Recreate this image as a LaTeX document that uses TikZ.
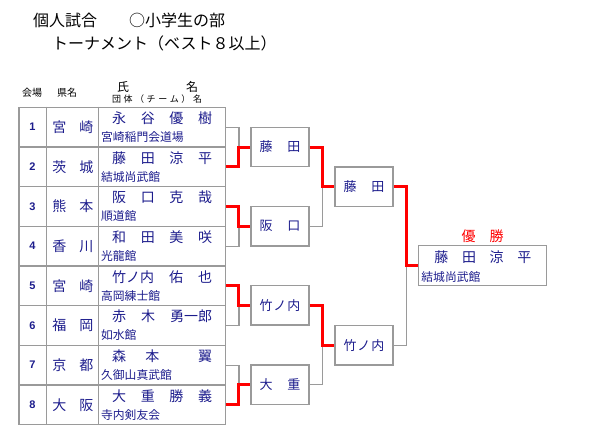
\documentclass[tikz,border=0pt]{standalone}
\usepackage{fontspec}
\setmainfont{Noto Sans CJK JP}
\newfontfamily\numfont{Liberation Sans}
\usetikzlibrary{positioning,calc}
\definecolor{ink}{HTML}{1C1C8C}
\definecolor{rule}{HTML}{9A9A9A}
\definecolor{win}{HTML}{FF0000}
\tikzset{
  lose/.style={draw=rule, line width=1.2pt},
  wins/.style={draw=win, line width=3pt},
  entry/.style={lose, minimum width=206.3pt, minimum height=39.67pt, inner sep=0pt},
  matchbox/.style={lose, minimum width=58pt, minimum height=39.4pt, inner sep=0pt, text=ink, font=\fontsize{13}{13}\selectfont},
  finalbox/.style={lose, minimum width=128.4pt, minimum height=40pt, inner sep=0pt},
  numtext/.style={inner sep=0pt, text=ink, font=\numfont\bfseries\fontsize{11}{11}\selectfont},
  preftext/.style={inner sep=0pt, text=ink, font=\fontsize{14}{14}\selectfont},
  nametext/.style={inner sep=0pt, anchor=west, text=ink, font=\fontsize{14}{14}\selectfont},
  teamtext/.style={inner sep=0pt, anchor=west, text=ink, font=\fontsize{11.8}{12}\selectfont},
  headtext/.style={inner sep=0pt, font=\fontsize{10}{10}\selectfont},
  titletext/.style={inner sep=0pt, anchor=west, font=\fontsize{16}{16}\selectfont}
}
\begin{document}
\begin{tikzpicture}[x=1pt, y=-1pt]
\useasboundingbox (0,0) rectangle (600,440);

% title
\node[titletext] (title) at (33,20) {個人試合　　○小学生の部};
\node[titletext] (subtitle) at (52,43) {トーナメント（ベスト８以上）};

% column heads
\node[headtext] (hvenue) at (32,93) {会場};
\node[headtext] (hpref) at (67,93) {県名};
\node[headtext, font=\fontsize{12}{12}\selectfont] (hname) at (123,87) {氏};
\node[headtext, font=\fontsize{12}{12}\selectfont] (hname2) at (192,87) {名};
\node[headtext, font=\fontsize{9}{9}\selectfont] (hteam) at (157,99)
  {\makebox[90pt][s]{団\hfill 体\hfill （\hfill チ\hfill ー\hfill ム\hfill ）\hfill 名}};

% players
\foreach \i/\pref/\name/\team in {
  1/{宮\hfill 崎}/{永\hfill 谷\hfill 優\hfill 樹}/宮崎稲門会道場,
  2/{茨\hfill 城}/{藤\hfill 田\hfill 涼\hfill 平}/結城尚武館,
  3/{熊\hfill 本}/{阪\hfill 口\hfill 克\hfill 哉}/順道館,
  4/{香\hfill 川}/{和\hfill 田\hfill 美\hfill 咲}/光龍館,
  5/{宮\hfill 崎}/{竹ノ内\hfill 佑\hfill 也}/高岡練士館,
  6/{福\hfill 岡}/{赤\hfill 木\hfill 勇一郎}/如水館,
  7/{京\hfill 都}/{森\hfill 本\hfill\hfill 翼}/久御山真武館,
  8/{大\hfill 阪}/{大\hfill 重\hfill 勝\hfill 義}/寺内剣友会}
{
  \node[entry] (p\i) at (122.15,{127.1+(\i-1)*39.67}) {};
  \node[numtext] at ($(p\i.west)+(14,0)$) {\i};
  \node[preftext] at ($(p\i.west)+(54.5,0)$) {\makebox[41pt][s]{\pref}};
  \node[nametext] at ($(p\i.west)+(93.5,-9)$) {\makebox[100pt][s]{\name}};
  \node[teamtext] at ($(p\i.west)+(82.5,10)$) {\team};
}
\draw[lose] ($(p1.north west)+(28,0)$) -- ($(p8.south west)+(28,0)$);
\draw[lose] ($(p1.north west)+(80,0)$) -- ($(p8.south west)+(80,0)$);

% rounds
\node[matchbox] (r1a) at (280,147) {\makebox[41pt][s]{藤\hfill 田}};
\node[matchbox] (r1b) at (280,226.3) {\makebox[41pt][s]{阪\hfill 口}};
\node[matchbox] (r1c) at (280,305.3) {\makebox[41pt][s]{竹\hfill ノ\hfill 内}};
\node[matchbox] (r1d) at (280,384.7) {\makebox[41pt][s]{大\hfill 重}};
\node[matchbox] (r2a) at (364,186.7) {\makebox[41pt][s]{藤\hfill 田}};
\node[matchbox] (r2b) at (364,345.3) {\makebox[41pt][s]{竹\hfill ノ\hfill 内}};
\node[finalbox] (champ) at (482.5,265.7) {};
\node[nametext] at ($(champ.west)+(16.5,-9)$) {\makebox[97pt][s]{藤\hfill 田\hfill 涼\hfill 平}};
\node[teamtext] at ($(champ.west)+(3.5,11)$) {結城尚武館};
\node[preftext, text=win, above=2pt of champ] (wlabel) {優　勝};

% brackets
\draw[lose] (p1.east) -- ++(13,0) |- (r1a.west);
\draw[lose] (p4.east) -- ++(13,0) |- (r1b.west);
\draw[lose] (p6.east) -- ++(13,0) |- (r1c.west);
\draw[lose] (p7.east) -- ++(13,0) |- (r1d.west);
\draw[lose] (r1b.east) -- ++(12.7,0) |- (r2a.west);
\draw[lose] (r1d.east) -- ++(12.7,0) |- (r2b.west);
\draw[lose] (r2b.east) -- ++(12.7,0) |- (champ.west);

\draw[wins] (p2.east) -- ++(13,0) |- (r1a.west);
\draw[wins] (p3.east) -- ++(13,0) |- (r1b.west);
\draw[wins] (p5.east) -- ++(13,0) |- (r1c.west);
\draw[wins] (p8.east) -- ++(13,0) |- (r1d.west);
\draw[wins] (r1a.east) -- ++(12.7,0) |- (r2a.west);
\draw[wins] (r1c.east) -- ++(12.7,0) |- (r2b.west);
\draw[wins] (r2a.east) -- ++(12.7,0) |- (champ.west);
\end{tikzpicture}
\end{document}
